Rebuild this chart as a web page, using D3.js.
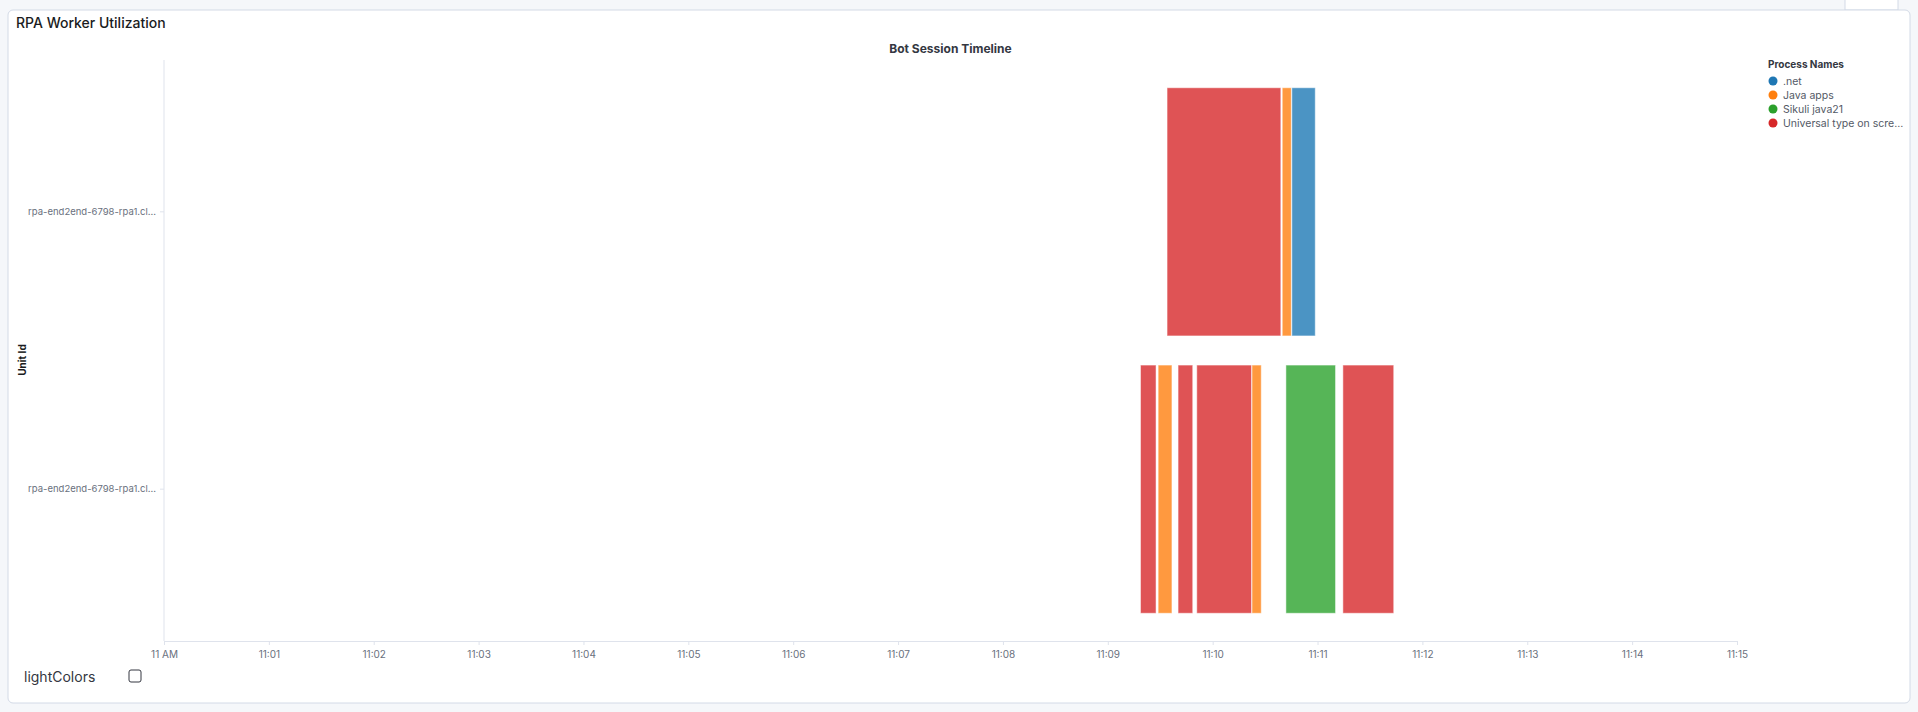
<!DOCTYPE html>
<html>
<head>
<meta charset="utf-8">
<script src="https://cdn.jsdelivr.net/npm/d3@7"></script>
<style>
  body { margin: 0; background: #f5f7fa; font-family: Inter, "Noto Sans", sans-serif; }
  svg { display: block; }
</style>
</head>
<body>
<script>
const width = 1918, height = 712;

// sessions: seconds after 11:09:00 (UTC used as wall clock)
const unit = "rpa-end2end-6798-rpa1.cl...";
const rows = ["row1", "row2"];
const sessions = [
  {row: "row1", name: "Universal type on screen", s: 33.9, e: 99.0},
  {row: "row1", name: "Java apps", s: 99.8, e: 105.0},
  {row: "row1", name: ".net", s: 105.3, e: 118.7},
  {row: "row2", name: "Universal type on screen", s: 18.7, e: 27.6},
  {row: "row2", name: "Java apps", s: 28.8, e: 36.7},
  {row: "row2", name: "Universal type on screen", s: 40.2, e: 48.6},
  {row: "row2", name: "Universal type on screen", s: 50.9, e: 82.3},
  {row: "row2", name: "Java apps", s: 82.5, e: 87.8},
  {row: "row2", name: "Sikuli java21", s: 101.9, e: 130.3},
  {row: "row2", name: "Universal type on screen", s: 134.5, e: 163.6}
];
const base = Date.UTC(2024, 0, 1, 11, 9, 0);
const names = [".net", "Java apps", "Sikuli java21", "Universal type on screen"];
const legendColor = d3.scaleOrdinal(names, ["#1f77b4", "#ff7f0e", "#2ca02c", "#d62728"]);
const barColor = d3.scaleOrdinal(names, ["#4b94c4", "#ff993f", "#56b557", "#df5355"]);

const svg = d3.select("body").append("svg").attr("width", width).attr("height", height);

// page chrome
svg.append("rect").attr("x", 1845).attr("y", -4).attr("width", 53).attr("height", 14)
  .attr("fill", "#fff").attr("stroke", "#d3dae6");
svg.append("rect").attr("x", 8).attr("y", 10).attr("width", 1902).attr("height", 693).attr("rx", 5)
  .attr("fill", "#fff").attr("stroke", "#d3dae6");
svg.append("text").attr("x", 16).attr("y", 28).attr("font-size", 14).attr("font-weight", 500)
  .attr("fill", "#1a1c21").text("RPA Worker Utilization");

const margin = {left: 164, right: 1737, top: 60, bottom: 641};
const x = d3.scaleUtc()
  .domain([new Date(Date.UTC(2024, 0, 1, 11, 0, 0)), new Date(Date.UTC(2024, 0, 1, 11, 15, 0))])
  .range([margin.left, margin.right]);
const y = d3.scaleBand().domain(rows).range([margin.top, margin.bottom])
  .paddingInner(0.105).paddingOuter(0.1);

svg.append("text").attr("x", (margin.left + margin.right) / 2).attr("y", 53)
  .attr("text-anchor", "middle").attr("font-size", 12).attr("font-weight", 700)
  .attr("fill", "#343741").text("Bot Session Timeline");

const fmt = d => d.getUTCMinutes() === 0 ? "11 AM" : d3.utcFormat("%H:%M")(d);
const xa = svg.append("g").attr("transform", `translate(0,${margin.bottom})`)
  .call(d3.axisBottom(x).ticks(d3.utcMinute.every(1)).tickFormat(fmt).tickSize(4).tickPadding(6));
xa.select(".domain").attr("stroke", "#dfe3ec");
xa.selectAll(".tick line").attr("stroke", "#dfe3ec");
xa.selectAll("text").attr("fill", "#69707d").attr("font-size", 10).attr("font-family", "Inter, sans-serif");

const ya = svg.append("g").attr("transform", `translate(${margin.left},0)`)
  .call(d3.axisLeft(y).tickFormat(() => unit).tickSize(4).tickPadding(4));
ya.select(".domain").attr("stroke", "#dfe3ec").attr("d", `M0,${margin.top}V${margin.bottom}`);
ya.selectAll(".tick line").attr("stroke", "#dfe3ec");
ya.selectAll("text").attr("fill", "#69707d").attr("font-size", 9.5).attr("font-family", "Inter, sans-serif");

svg.append("text").attr("transform", `translate(26,360) rotate(-90)`).attr("text-anchor", "middle")
  .attr("font-size", 10).attr("font-weight", 700).attr("fill", "#1a1c21").text("Unit Id");

svg.append("g").selectAll("rect").data(sessions).join("rect")
  .attr("x", d => x(new Date(base + d.s * 1000)))
  .attr("width", d => x(new Date(base + d.e * 1000)) - x(new Date(base + d.s * 1000)))
  .attr("y", d => y(d.row)).attr("height", y.bandwidth())
  .attr("fill", d => barColor(d.name))
  .attr("stroke", "#fff").attr("stroke-opacity", 0.5).attr("stroke-width", 1);

// legend
const lg = svg.append("g").attr("transform", "translate(1768,0)");
lg.append("text").attr("y", 68).attr("font-size", 10).attr("font-weight", 700).attr("fill", "#343741").text("Process Names");
const li = lg.selectAll(".item").data(names).join("g").attr("transform", (d, i) => `translate(0,${81 + i * 14})`);
li.append("circle").attr("cx", 5).attr("r", 4.5).attr("fill", d => legendColor(d));
li.append("text").attr("x", 15).attr("dy", "0.35em").attr("font-size", 10.5).attr("fill", "#535966")
  .text(d => d.length > 20 ? "Universal type on scre..." : d);

// lightColors control
svg.append("text").attr("x", 24).attr("y", 682).attr("font-size", 14).attr("fill", "#343741").text("lightColors");
svg.append("rect").attr("x", 129).attr("y", 670).attr("width", 12).attr("height", 12).attr("rx", 2)
  .attr("fill", "#fff").attr("stroke", "#343741");
</script>
</body>
</html>
